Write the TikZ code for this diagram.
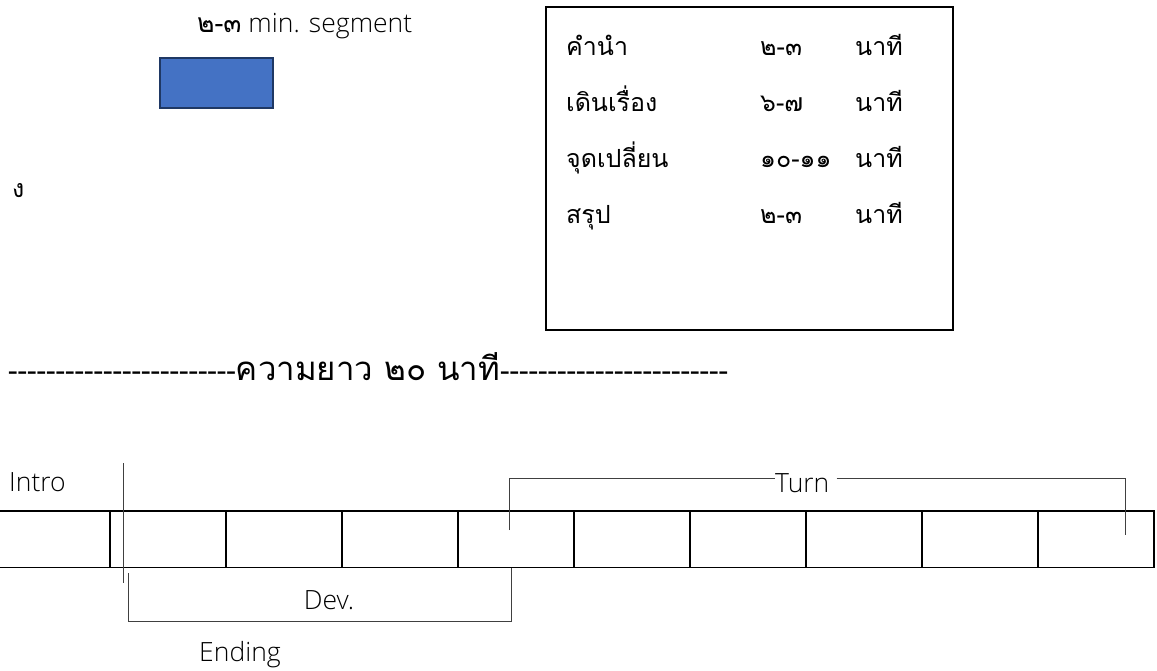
\documentclass[tikz,border=0pt]{standalone}
\usepackage{fontspec}
\newfontfamily\thai[Script=Thai]{Loma}
\newfontfamily\lat{Open Sans}[UprightFont={* Light}]
\definecolor{segfill}{HTML}{4472C4}
\definecolor{segline}{HTML}{1F3864}
\tikzset{
  lbl/.style={inner sep=0pt, font=\lat\fontsize{26.5}{30}\selectfont},
  th/.style={inner sep=0pt, font=\thai\fontsize{25}{30}\selectfont},
  thbig/.style={inner sep=0pt, font=\thai\fontsize{33}{38}\selectfont},
  cell/.style={line width=1.5pt},
  brk/.style={line width=0.8pt, draw=black!75}
}
\begin{document}
\begin{tikzpicture}[x=1pt,y=-1pt]
\useasboundingbox (0,0) rectangle (1157,670);
% top left
\node[lbl, anchor=base west] (seg) at (197,32) {{\thai ๒-๓} min. segment};
\node[draw=segline, fill=segfill, line width=2pt, minimum width=113pt, minimum height=50pt, inner sep=0pt] (blk) at (216.5,83) {};
\node[th, anchor=base west] (ng) at (12,197) {ง};
% box
\node[draw, line width=1.2pt, minimum width=407pt, minimum height=323pt, inner sep=0pt] (box) at (749.5,168.5) {};
\foreach \y/\a/\b [count=\i] in {55/คำนำ/๒-๓, 111/เดินเรื่อง/๖-๗, 167/จุดเปลี่ยน/๑๐-๑๑, 223/สรุป/๒-๓}{
  \node[th, anchor=base west] (r\i a) at (566,\y) {\a};
  \node[th, anchor=base west] (r\i b) at (760,\y) {\b};
  \node[th, anchor=base west] (r\i c) at (855,\y) {นาที};
}
% length line
\node[thbig, anchor=base west] (len) at (8,380) {{\fontsize{28.5}{30}\selectfont ------------------------}ความยาว ๒๐ นาที{\fontsize{28.5}{30}\selectfont ------------------------}};
% timeline
\draw[cell] (0,511) -- (1155,511) (0,567.5) -- (1155,567.5);
\foreach \x in {110,226,342,458,574,690,806,922,1038,1154}{
  \draw[cell] (\x,511) -- (\x,567.5);
}
\node[lbl, anchor=base west] (intro) at (9,491) {Intro};
\coordinate (mA) at (123,463);
\coordinate (mB) at (123,583);
\draw[brk] (mA) -- (mB);
% Turn
\node[lbl, anchor=base west] (turn) at (775,492) {Turn};
\coordinate (tL) at (509,530);
\coordinate (tR) at (1125,535);
\draw[brk] (tL) |- (turn.west|-0,478) ;
\draw[brk] ([xshift=7pt]turn.east|-0,478) -| (tR);
% Dev
\node[lbl] (dev) at (329,600) {Dev.};
\coordinate (dL) at (128,573);
\coordinate (dR) at (511,567.5);
\draw[brk] (dL) |- (511,621) -- (dR);
\node[lbl] (end) at (240,655) {Ending};
\end{tikzpicture}
\end{document}
